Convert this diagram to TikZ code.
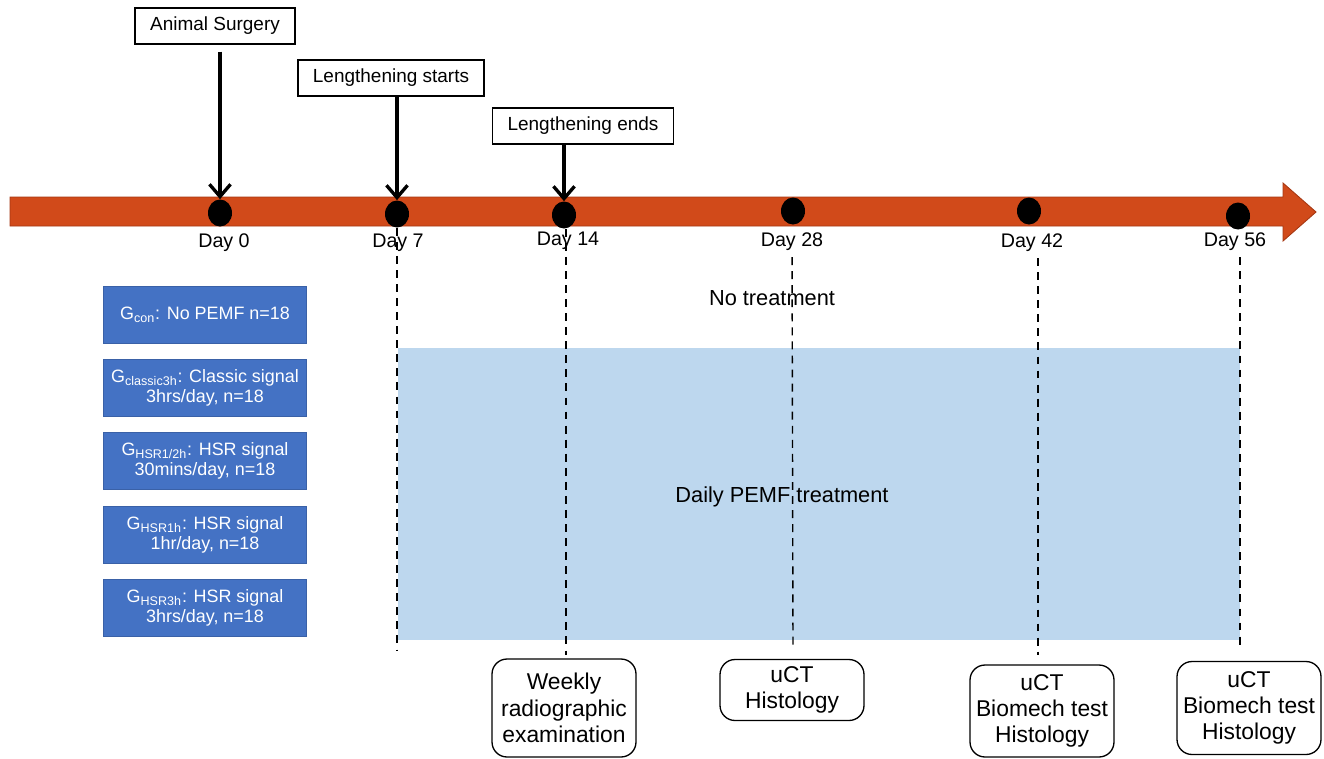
\documentclass[tikz,border=0pt]{standalone}
\usepackage{fontspec}
\setmainfont{Liberation Sans}
\usetikzlibrary{arrows.meta,shapes.geometric}
\definecolor{barred}{RGB}{209,74,26}
\definecolor{bardark}{RGB}{165,55,18}
\definecolor{grpblue}{RGB}{68,114,196}
\definecolor{pemfblue}{RGB}{189,215,238}

\begin{document}
\begin{tikzpicture}[>={Straight Barb[length=7pt,width=12pt]}, x=0.02cm, y=-0.02cm,
    topbox/.style={draw, line width=0.8pt, inner xsep=0.3cm, minimum height=0.72cm, font=\fontsize{10.8}{13}\selectfont},
    daydot/.style={ellipse, fill=black, minimum width=0.48cm, minimum height=0.54cm, inner sep=0pt},
    daylbl/.style={font=\fontsize{11.2}{13}\selectfont},
    grpbox/.style={draw=grpblue!85!black, fill=grpblue, text=white, minimum width=4.06cm, minimum height=1.14cm, align=center, font=\fontsize{10.2}{11.6}\selectfont},
    outbox/.style={draw, line width=0.75pt, rounded corners=0.3cm, align=center, minimum width=2.88cm, font=\fontsize{13}{15}\selectfont},
    dline/.style={dashed, line width=0.8pt, dash pattern=on 4.5pt off 3.5pt}]
    \useasboundingbox (0,0) rectangle (1324,758);
    % treatment window
    \fill[pemfblue] (398,348) rectangle (1240,640);
    \node[font=\fontsize{12.4}{14}\selectfont] (notreat) at (772,298) {No treatment};
    \node[font=\fontsize{12.4}{14}\selectfont] (daily) at (782,497) {Daily PEMF treatment};
    % time bar
    \filldraw[fill=barred, draw=bardark, line width=0.5pt] (10,197) -- (1283,197) -- (1283,183) -- (1316,212) -- (1283,241) -- (1283,226) -- (10,226) -- cycle;
    \node[daydot] (d0) at (220,213) {};
    \node[daydot] (d7) at (397,214) {};
    \node[daydot] (d14) at (564,215) {};
    \node[daydot] (d28) at (793,211) {};
    \node[daydot] (d42) at (1029,211) {};
    \node[daydot] (d56) at (1238,216) {};
    \node[daylbl] (l0) at (224,243) {Day 0};
    \node[daylbl] (l7) at (398,243) {Day 7};
    \node[daylbl] (l14) at (568,241) {Day 14};
    \node[daylbl] (l28) at (792,242) {Day 28};
    \node[daylbl] (l42) at (1032,243) {Day 42};
    \node[daylbl] (l56) at (1235,242) {Day 56};
    \coordinate (e7) at (397,650);
    \coordinate (e14) at (566,655);
    \coordinate (e28) at (793,650);
    \coordinate (e42) at (1038,655);
    \coordinate (e56) at (1240,650);
    \draw[dline] (d7) -- (e7);
    \draw[dline] (d14.south -| e14) -- (e14);
    \draw[dline] (l28) -- (e28);
    \draw[dline] (l42.south -| e42) -- (e42);
    \draw[dline] (l56.south -| e56) -- (e56);
    % events
    \node[topbox] (surg) at (215,26) {Animal Surgery};
    \node[topbox] (lstart) at (391,78) {Lengthening starts};
    \node[topbox] (lend) at (583,126) {Lengthening ends};
    \draw[->, line width=1.9pt, shorten <=4pt] (surg.south -| d0) -- (d0);
    \draw[->, line width=1.9pt] (lstart.south -| d7) -- (d7);
    \draw[->, line width=1.9pt] (lend.south -| d14) -- (d14);
    % groups
    \node[grpbox] (gcon) at (205,315) {G\textsubscript{con}: No PEMF n=18};
    \node[grpbox] (gcls) at (205,388) {G\textsubscript{classic3h}: Classic signal\\3hrs/day, n=18};
    \node[grpbox] (ghalf) at (205,461) {G\textsubscript{HSR1/2h}: HSR signal\\30mins/day, n=18};
    \node[grpbox] (g1h) at (205,535) {G\textsubscript{HSR1h}: HSR signal\\1hr/day, n=18};
    \node[grpbox] (g3h) at (205,608) {G\textsubscript{HSR3h}: HSR signal\\3hrs/day, n=18};
    % outcome measures
    \node[outbox, minimum height=1.96cm] (xray) at (564,708) {Weekly\\radiographic\\examination};
    \node[outbox, minimum height=1.22cm] (out28) at (792,690) {uCT\\Histology};
    \node[outbox, minimum height=1.84cm] (out42) at (1042,711) {uCT\\Biomech test\\Histology};
    \node[outbox, minimum height=1.86cm] (out56) at (1249,708) {uCT\\Biomech test\\Histology};
\end{tikzpicture}
\end{document}
